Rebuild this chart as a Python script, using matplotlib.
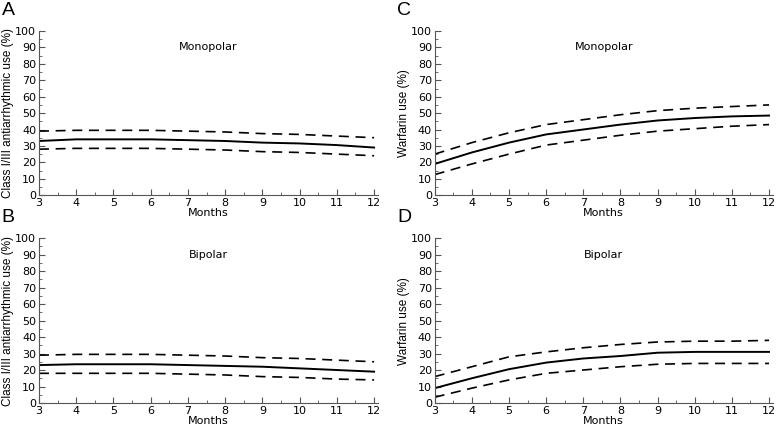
import numpy as np
import matplotlib.pyplot as plt
from matplotlib.ticker import MultipleLocator

months = [3, 4, 5, 6, 7, 8, 9, 10, 11, 12]

# class I/III antiarrhythmic use, monopolar (A)
a_mean = [33, 34, 34, 34, 33.5, 33, 32, 31.5, 30.5, 29]
a_upper = [39, 39.5, 39.5, 39.5, 39, 38.5, 37.5, 37, 36, 35]
a_lower = [28, 28.5, 28.5, 28.5, 28, 27.5, 26.5, 26, 25, 24]

# class I/III antiarrhythmic use, bipolar (B)
b_mean = [23, 23.5, 23.5, 23.5, 23, 22.5, 22, 21, 20, 19]
b_upper = [29, 29.5, 29.5, 29.5, 29, 28.5, 27.5, 27, 26, 25]
b_lower = [18, 18, 18, 18, 17.5, 17, 16, 15.5, 14.5, 14]

# warfarin use, monopolar (C)
c_mean = [19, 26, 32, 37, 40, 43, 45.5, 47, 48, 48.5]
c_upper = [25, 32, 38, 43, 46, 49, 51.5, 53, 54, 55]
c_lower = [12.5, 19, 25, 30.5, 33.5, 36.5, 39, 40.5, 42, 43]

# warfarin use, bipolar (D)
d_mean = [9, 15, 20.5, 24.5, 27, 28.5, 30.5, 31, 31, 31]
d_upper = [16, 22, 28, 31, 33.5, 35.5, 37, 37.5, 37.5, 38]
d_lower = [3.5, 9, 14, 18, 20, 22, 23.5, 24, 24, 24]

panels = [
    ("A", "Monopolar", "Class I/III antiarrhythmic use (%)", a_mean, a_upper, a_lower),
    ("B", "Bipolar", "Class I/III antiarrhythmic use (%)", b_mean, b_upper, b_lower),
    ("C", "Monopolar", "Warfarin use (%)", c_mean, c_upper, c_lower),
    ("D", "Bipolar", "Warfarin use (%)", d_mean, d_upper, d_lower),
]

# axes boxes in figure fraction [left, bottom, width, height]
boxes = {
    "A": [0.050, 0.542, 0.435, 0.385],
    "B": [0.050, 0.054, 0.435, 0.387],
    "C": [0.558, 0.542, 0.434, 0.385],
    "D": [0.558, 0.054, 0.434, 0.387],
}

fig = plt.figure(figsize=(7.79, 4.26), dpi=100)

for letter, title, ylab, mean, upper, lower in panels:
    ax = fig.add_axes(boxes[letter])
    ax.plot(months, mean, color="black", lw=1.4)
    ax.plot(months, upper, color="black", lw=1.2, ls=(0, (6, 4)))
    ax.plot(months, lower, color="black", lw=1.2, ls=(0, (6, 4)))
    ax.set_xlim(3, 12.1)
    ax.set_ylim(0, 100)
    ax.xaxis.set_major_locator(MultipleLocator(1))
    ax.xaxis.set_minor_locator(MultipleLocator(0.5))
    ax.yaxis.set_major_locator(MultipleLocator(10))
    ax.yaxis.set_minor_locator(MultipleLocator(5))
    ax.tick_params(which="both", direction="in", color="#555555", labelsize=8, pad=2)
    ax.tick_params(which="major", length=4)
    ax.tick_params(which="minor", length=2)
    for s in ["top", "right"]:
        ax.spines[s].set_visible(False)
    for s in ["left", "bottom"]:
        ax.spines[s].set_color("#555555")
    ax.set_xlabel("Months", fontsize=8, labelpad=0)
    ax.set_ylabel(ylab, fontsize=8.5, family="Liberation Sans", labelpad=1)
    ax.text(0.5, 0.9, title, transform=ax.transAxes, ha="center", va="center", fontsize=8)
    pos = ax.get_position()
    fig.text(pos.x0 - 0.048, pos.y1 + 0.068, letter, fontsize=14,
             family="Liberation Sans", ha="left", va="top")

fig.savefig("out.png", dpi=100)
